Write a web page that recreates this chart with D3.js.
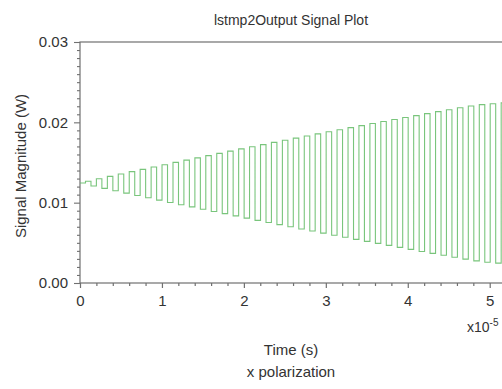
<!DOCTYPE html>
<html>
<head>
<meta charset="utf-8">
<script src="https://cdn.jsdelivr.net/npm/d3@7"></script>
<style>
  body { margin: 0; background: #fff; }
  svg { display: block; font-family: "Liberation Sans", Arial, sans-serif; }
</style>
</head>
<body>
<svg id="chart" width="502" height="389"></svg>
<script>
// time in units of 1e-5 s, magnitude in W
const baseLevel = 0.01245;
const riseTimes = [0.067, 0.200, 0.334, 0.467, 0.601, 0.734, 0.868, 1.001, 1.135, 1.268,
  1.402, 1.535, 1.669, 1.802, 1.936, 2.069, 2.203, 2.336, 2.470, 2.603,
  2.737, 2.870, 3.004, 3.137, 3.271, 3.404, 3.538, 3.671, 3.805, 3.938,
  4.072, 4.205, 4.339, 4.472, 4.606, 4.739, 4.873, 5.006, 5.140];
const fallTimes = [0.134, 0.267, 0.401, 0.534, 0.668, 0.801, 0.935, 1.068, 1.202, 1.335,
  1.469, 1.602, 1.736, 1.869, 2.003, 2.136, 2.270, 2.403, 2.537, 2.670,
  2.804, 2.937, 3.071, 3.204, 3.338, 3.471, 3.605, 3.738, 3.872, 4.005,
  4.139, 4.272, 4.406, 4.539, 4.673, 4.806, 4.940, 5.073, 5.207];
const highs = [0.01267, 0.01297, 0.01327, 0.01356, 0.01386, 0.01415, 0.01444, 0.01472, 0.01501, 0.01529,
  0.01558, 0.01586, 0.01614, 0.01641, 0.01669, 0.01696, 0.01723, 0.01750, 0.01777, 0.01803,
  0.01830, 0.01856, 0.01882, 0.01908, 0.01934, 0.01959, 0.01985, 0.02010, 0.02035, 0.02060,
  0.02084, 0.02109, 0.02133, 0.02157, 0.02181, 0.02203, 0.02220, 0.02232, 0.02242];
const lows = [0.01208, 0.01178, 0.01148, 0.01119, 0.01090, 0.01061, 0.01032, 0.01003, 0.00975, 0.00947,
  0.00918, 0.00890, 0.00863, 0.00835, 0.00808, 0.00780, 0.00753, 0.00727, 0.00700, 0.00673,
  0.00647, 0.00621, 0.00595, 0.00569, 0.00543, 0.00518, 0.00493, 0.00468, 0.00443, 0.00418,
  0.00393, 0.00369, 0.00345, 0.00321, 0.00297, 0.00275, 0.00258, 0.00248, 0.00240];

const xMajor = [0, 1, 2, 3, 4, 5];
const yMajor = [0, 0.01, 0.02, 0.03];

const svg = d3.select("#chart");
const plotLeft = 80, plotRight = 502, plotTop = 42, plotBottom = 283;
const axisColor = "#707070";
const textColor = "#333";

const x = d3.scaleLinear().domain([0, 5.15]).range([plotLeft, plotRight]);
const y = d3.scaleLinear().domain([0, 0.03]).range([plotBottom, plotTop]);

// frame (right side runs off the picture)
svg.append("rect")
  .attr("x", plotLeft).attr("y", plotTop)
  .attr("width", plotRight - plotLeft + 10).attr("height", plotBottom - plotTop)
  .attr("fill", "none").attr("stroke", axisColor).attr("stroke-width", 1.2);

// signal
const pts = [[0, baseLevel]];
riseTimes.forEach((t, i) => {
  pts.push([t, highs[i]]);
  pts.push([fallTimes[i], lows[i]]);
});
svg.append("clipPath").attr("id", "plotclip")
  .append("rect").attr("x", plotLeft).attr("y", plotTop)
  .attr("width", plotRight - plotLeft).attr("height", plotBottom - plotTop);
svg.append("path")
  .datum(pts)
  .attr("clip-path", "url(#plotclip)")
  .attr("fill", "none")
  .attr("stroke", "#62bb65")
  .attr("stroke-width", 1.1)
  .attr("stroke-opacity", 0.85)
  .attr("d", d3.line().x(d => x(d[0])).y(d => y(d[1])).curve(d3.curveStepAfter));

// x axis
const xMinor = d3.range(0, 5.15, 0.2).filter(v => Math.abs(v - Math.round(v)) > 1e-6);
const gx = svg.append("g").attr("transform", `translate(0,${plotBottom})`);
gx.call(d3.axisBottom(x).tickValues(xMinor).tickSize(3).tickFormat(""));
gx.append("g").call(d3.axisBottom(x).tickValues(xMajor).tickSize(5).tickPadding(7).tickFormat(d3.format("d")));
gx.selectAll(".domain").remove();
gx.selectAll("line").attr("stroke", axisColor).attr("stroke-width", 1.2);
gx.selectAll("text").attr("fill", textColor).attr("font-size", 15);

// y axis
const yMinor = d3.range(0, 0.0301, 0.001).filter(v => Math.abs(v / 0.01 - Math.round(v / 0.01)) > 1e-6);
const gy = svg.append("g").attr("transform", `translate(${plotLeft},0)`);
gy.call(d3.axisLeft(y).tickValues(yMinor).tickSize(3).tickFormat(""));
gy.append("g").call(d3.axisLeft(y).tickValues(yMajor).tickSize(6).tickPadding(6).tickFormat(d3.format(".2f")));
gy.selectAll(".domain").remove();
gy.selectAll("line").attr("stroke", axisColor).attr("stroke-width", 1.1);
gy.selectAll("text").attr("fill", textColor).attr("font-size", 15);

// texts
svg.append("text").attr("x", 291).attr("y", 25).attr("text-anchor", "middle")
  .attr("font-size", 14).attr("fill", textColor).text("lstmp2Output Signal Plot");

const mult = svg.append("text").attr("x", 467).attr("y", 332)
  .attr("font-size", 14).attr("fill", textColor);
mult.append("tspan").text("x10");
mult.append("tspan").attr("dy", -6).attr("font-size", 10).text("-5");

svg.append("text").attr("x", 291).attr("y", 355).attr("text-anchor", "middle")
  .attr("font-size", 15).attr("fill", textColor).text("Time (s)");
svg.append("text").attr("x", 291).attr("y", 377).attr("text-anchor", "middle")
  .attr("font-size", 15).attr("fill", textColor).text("x polarization");

svg.append("text")
  .attr("transform", "translate(26,166) rotate(-90)")
  .attr("text-anchor", "middle")
  .attr("font-size", 15).attr("fill", textColor).text("Signal Magnitude (W)");
</script>
</body>
</html>
